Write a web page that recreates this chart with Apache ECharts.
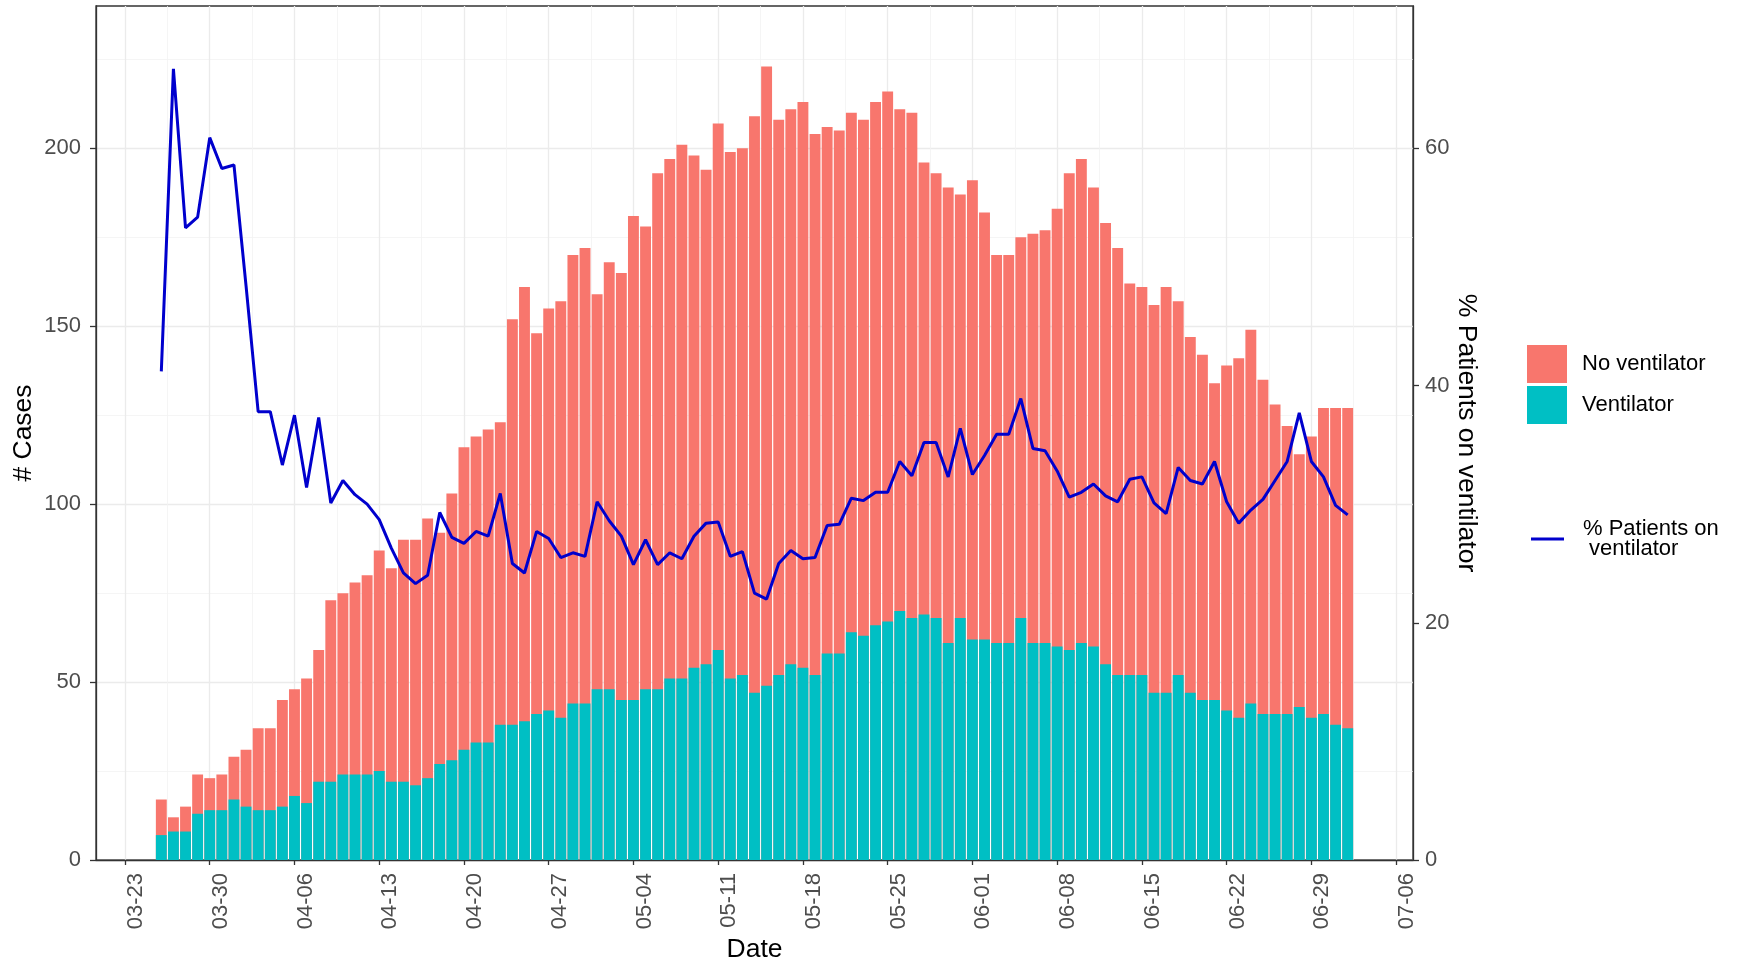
<!DOCTYPE html>
<html>
<head>
<meta charset="utf-8">
<title>% Patients on ventilator</title>
<script src="https://cdn.jsdelivr.net/npm/echarts@6/dist/echarts.min.js"></script>
<style>
	html, body { margin: 0; padding: 0; background: #fff; }
	#chart { width: 1738px; height: 960px; }
</style>
</head>
<body>
<div id="chart"></div>
<script>
"use strict";

// weekly breaks on the date axis (day 0 = 03-23)
const weekLabels = ["03-23", "03-30", "04-06", "04-13", "04-20", "04-27", "05-04", "05-11",
	"05-18", "05-25", "06-01", "06-08", "06-15", "06-22", "06-29", "07-06"];

const dates = [
	"03-26", "03-27", "03-28", "03-29", "03-30", "03-31",
	"04-01", "04-02", "04-03", "04-04", "04-05", "04-06", "04-07", "04-08", "04-09", "04-10",
	"04-11", "04-12", "04-13", "04-14", "04-15", "04-16", "04-17", "04-18", "04-19", "04-20",
	"04-21", "04-22", "04-23", "04-24", "04-25", "04-26", "04-27", "04-28", "04-29", "04-30",
	"05-01", "05-02", "05-03", "05-04", "05-05", "05-06", "05-07", "05-08", "05-09", "05-10",
	"05-11", "05-12", "05-13", "05-14", "05-15", "05-16", "05-17", "05-18", "05-19", "05-20",
	"05-21", "05-22", "05-23", "05-24", "05-25", "05-26", "05-27", "05-28", "05-29", "05-30", "05-31",
	"06-01", "06-02", "06-03", "06-04", "06-05", "06-06", "06-07", "06-08", "06-09", "06-10",
	"06-11", "06-12", "06-13", "06-14", "06-15", "06-16", "06-17", "06-18", "06-19", "06-20",
	"06-21", "06-22", "06-23", "06-24", "06-25", "06-26", "06-27", "06-28", "06-29", "06-30",
	"07-01", "07-02"
];

// all patients (top of each bar)
const totalCases = [
	17, 12, 15, 24, 23, 24, 29, 31, 37, 37,
	45, 48, 51, 59, 73, 75, 78, 80, 87, 82,
	90, 90, 96, 92, 103, 116, 119, 121, 123, 152,
	161, 148, 155, 157, 170, 172, 159, 168, 165, 181,
	178, 193, 197, 201, 198, 194, 207, 199, 200, 209,
	223, 208, 211, 213, 204, 206, 205, 210, 208, 213,
	216, 211, 210, 196, 193, 189, 187, 191, 182, 170,
	170, 175, 176, 177, 183, 193, 197, 189, 179, 172,
	162, 161, 156, 161, 157, 147, 142, 134, 139, 141,
	149, 135, 128, 122, 114, 119, 127, 127, 127
];

// patients on ventilator (teal part)
const ventilator = [
	7, 8, 8, 13, 14, 14, 17, 15, 14, 14,
	15, 18, 16, 22, 22, 24, 24, 24, 25, 22,
	22, 21, 23, 27, 28, 31, 33, 33, 38, 38,
	39, 41, 42, 40, 44, 44, 48, 48, 45, 45,
	48, 48, 51, 51, 54, 55, 59, 51, 52, 47,
	49, 52, 55, 54, 52, 58, 58, 64, 63, 66,
	67, 70, 68, 69, 68, 61, 68, 62, 62, 61,
	61, 68, 61, 61, 60, 59, 61, 60, 55, 52,
	52, 52, 47, 47, 52, 47, 45, 45, 42, 40,
	44, 41, 41, 41, 43, 40, 41, 38, 37
];

const pctVentilator = [
	41.2, 66.7, 53.3, 54.2, 60.9, 58.3, 58.6, 48.4, 37.8, 37.8,
	33.3, 37.5, 31.4, 37.3, 30.1, 32.0, 30.8, 30.0, 28.7, 26.3,
	24.2, 23.3, 24.0, 29.3, 27.2, 26.7, 27.7, 27.3, 30.9, 25.0,
	24.2, 27.7, 27.1, 25.5, 25.9, 25.6, 30.2, 28.6, 27.3, 24.9,
	27.0, 24.9, 25.9, 25.4, 27.3, 28.4, 28.5, 25.6, 26.0, 22.5,
	22.0, 25.0, 26.1, 25.4, 25.5, 28.2, 28.3, 30.5, 30.3, 31.0,
	31.0, 33.6, 32.4, 35.2, 35.2, 32.3, 36.4, 32.5, 34.1, 35.9,
	35.9, 38.9, 34.7, 34.5, 32.8, 30.6, 31.0, 31.7, 30.7, 30.2,
	32.1, 32.3, 30.1, 29.2, 33.1, 32.0, 31.7, 33.6, 30.2, 28.4,
	29.5, 30.4, 32.0, 33.6, 37.7, 33.6, 32.3, 29.9, 29.1
];

const caseTicks = [0, 50, 100, 150, 200];
const caseMinorTicks = [25, 75, 125, 175, 225];
const pctTicks = [0, 20, 40, 60];

// days since 03-23
function dayOf(md) {
	const p = md.split("-");
	return Math.round((Date.UTC(2020, +p[0] - 1, +p[1]) - Date.UTC(2020, 2, 23)) / 86400000);
}
const days = dates.map(dayOf);
const weekDays = weekLabels.map(dayOf);
const halfWeekDays = weekDays.slice(1).map(d => d - 3.5);

// ggplot-like expansion: bars 0.9 wide, 5% padding each side
const barLo = days[0] - 0.45, barHi = days[days.length - 1] + 0.45;
const xMin = barLo - 0.05 * (barHi - barLo);
const xMax = barHi + 0.05 * (barHi - barLo);
const casesMax = 240;
const pctMax = casesMax * 0.3;

const FONT = "Liberation Sans";
const tickText = { fontFamily: FONT, fontSize: 22, color: "#4d4d4d" };
const titleText = { fontFamily: FONT, fontSize: 26.5, color: "#000" };
const axisDark = { color: "#333333", width: 1.3 };
const gridMajor = { show: true, lineStyle: { color: "#ebebeb", width: 1.3 } };
const gridMinor = { show: true, lineStyle: { color: "#f2f2f2", width: 0.8 } };

const chart = echarts.init(document.getElementById("chart"));

chart.setOption({
	backgroundColor: "#ffffff",
	animation: false,
	textStyle: { fontFamily: FONT },
	grid: {
		left: 96, right: 325, top: 6, bottom: 100,
		outerBoundsMode: "none",
		show: true, borderColor: "#333333", borderWidth: 1.3, backgroundColor: "transparent"
	},
	legend: [
		{
			data: ["No ventilator", "Ventilator"],
			orient: "vertical", left: 1527, top: 345, padding: 0,
			icon: "rect", itemWidth: 40, itemHeight: 38, itemGap: 3,
			selectedMode: false,
			textStyle: { fontFamily: FONT, fontSize: 22, color: "#000", padding: [0, 0, 0, 10] }
		},
		{
			data: ["% Patients on ventilator"],
			left: 1531, top: 515, padding: 0,
			icon: "path://M0,0H33V3H0Z", itemWidth: 33, itemHeight: 3,
			selectedMode: false,
			formatter: () => "% Patients on\n ventilator",
			textStyle: { fontFamily: FONT, fontSize: 22, lineHeight: 20, color: "#000", padding: [8, 0, 0, 14] }
		}
	],
	xAxis: [
		{
			type: "value", min: xMin, max: xMax,
			name: "Date", nameLocation: "middle", nameGap: 76, nameMoveOverlap: false,
			nameTextStyle: titleText,
			axisLine: { show: true, onZero: false, lineStyle: axisDark },
			axisTick: { show: true, length: 5, customValues: weekDays, lineStyle: axisDark },
			axisLabel: Object.assign({
				customValues: weekDays, rotate: 90, margin: 13, verticalAlign: "top",
				formatter: v => weekLabels[weekDays.indexOf(v)]
			}, tickText),
			splitLine: gridMajor
		},
		{
			// half-week minor grid
			type: "value", min: xMin, max: xMax,
			axisLine: { show: false, onZero: false }, axisLabel: { show: false },
			axisTick: { show: false, customValues: halfWeekDays },
			splitLine: gridMinor
		}
	],
	yAxis: [
		{
			type: "value", min: 0, max: casesMax, position: "left",
			name: "# Cases", nameLocation: "middle", nameGap: 59, nameRotate: 90, nameMoveOverlap: false,
			nameTextStyle: titleText,
			axisLine: { show: true, onZero: false, lineStyle: axisDark },
			axisTick: { show: true, length: 6, customValues: caseTicks, lineStyle: axisDark },
			axisLabel: Object.assign({ customValues: caseTicks, margin: 15 }, tickText),
			splitLine: gridMajor
		},
		{
			type: "value", min: 0, max: pctMax, position: "right",
			name: "% Patients on ventilator", nameLocation: "middle", nameGap: 40, nameRotate: -90,
			nameMoveOverlap: false, nameTextStyle: titleText,
			axisLine: { show: true, onZero: false, lineStyle: axisDark },
			axisTick: { show: true, length: 6, customValues: pctTicks, lineStyle: axisDark },
			axisLabel: Object.assign({ customValues: pctTicks, margin: 12 }, tickText),
			splitLine: { show: false }
		},
		{
			// minor grid for the case axis
			type: "value", min: 0, max: casesMax,
			axisLine: { show: false, onZero: false }, axisLabel: { show: false },
			axisTick: { show: false, customValues: caseMinorTicks },
			splitLine: gridMinor
		}
	],
	series: [
		{
			// full bar; the ventilator part is drawn over its lower end
			name: "No ventilator", type: "bar", barWidth: "90%", barGap: "-100%",
			itemStyle: { color: "#f8766d" },
			data: days.map((d, i) => [d, totalCases[i]])
		},
		{
			name: "Ventilator", type: "bar", barWidth: "90%", barGap: "-100%",
			itemStyle: { color: "#00bfc4" },
			data: days.map((d, i) => [d, ventilator[i]])
		},
		{
			name: "% Patients on ventilator", type: "line", yAxisIndex: 1, z: 5,
			symbol: "none",
			lineStyle: { color: "#0000cd", width: 3 },
			itemStyle: { color: "#0000cd" },
			data: days.map((d, i) => [d, pctVentilator[i]])
		}
	]
});

window.addEventListener("resize", () => { chart.resize(); });
</script>
</body>
</html>
